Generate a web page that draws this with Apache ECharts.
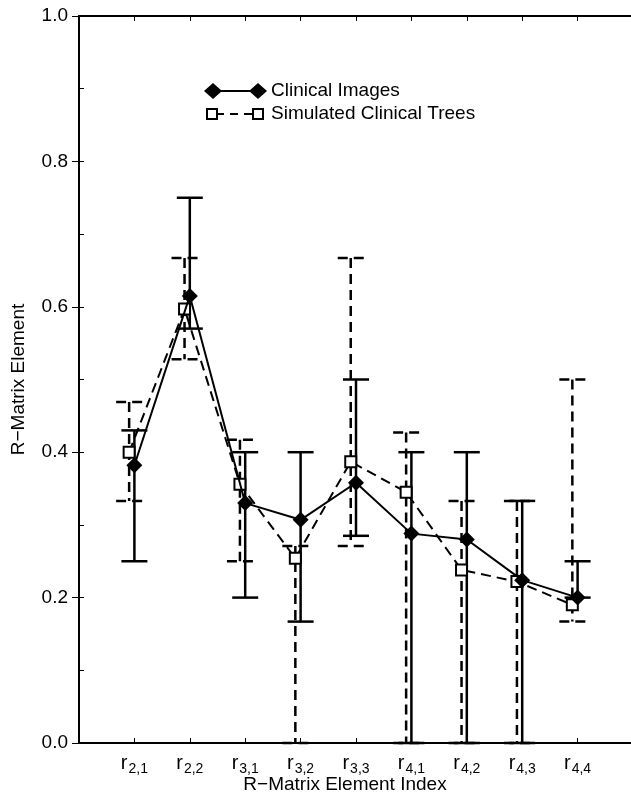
<!DOCTYPE html>
<html>
<head>
<meta charset="utf-8">
<script src="https://cdn.jsdelivr.net/npm/echarts@6/dist/echarts.min.js"></script>
<style>
html,body{margin:0;padding:0;background:#fff;}
#chart{width:631px;height:796px;}
</style>
</head>
<body>
<div id="chart"></div>
<script>
// ---- data ----
const categories = ['2,1','2,2','3,1','3,2','3,3','4,1','4,2','4,3','4,4'];
const yTicks = [0, 0.2, 0.4, 0.6, 0.8, 1.0];

const clinicalMean = [0.382, 0.615, 0.330, 0.307, 0.358, 0.288, 0.280, 0.224, 0.200];
const clinicalLow  = [0.250, 0.570, 0.200, 0.167, 0.285, 0.000, 0.000, 0.000, 0.200];
const clinicalHigh = [0.430, 0.750, 0.400, 0.400, 0.500, 0.400, 0.400, 0.333, 0.250];

const simMean = [0.400, 0.597, 0.356, 0.254, 0.387, 0.345, 0.238, 0.222, 0.190];
const simLow  = [0.333, 0.528, 0.250, 0.000, 0.271, 0.000, 0.000, 0.000, 0.167];
const simHigh = [0.469, 0.667, 0.417, 0.271, 0.667, 0.427, 0.333, 0.333, 0.500];

const seriesNames = ['Clinical Images', 'Simulated Clinical Trees'];
const xName = 'R\u2212Matrix Element Index';
const yName = 'R\u2212Matrix Element';

// ---- build ----
const FONT = '"Liberation Sans", Arial, Helvetica, sans-serif';
const FS = 19;
const SIM_OFFSET = -0.095;
const clinPts = clinicalMean.map((v, i) => [i + 1, v]);
const simPts = simMean.map((v, i) => [i + 1 + SIM_OFFSET, v]);
const clinErr = clinicalMean.map((v, i) => [i + 1, clinicalLow[i], clinicalHigh[i]]);
const simErr = simMean.map((v, i) => [i + 1 + SIM_OFFSET, simLow[i], simHigh[i]]);

function errRender(dashed) {
  return function (params, api) {
    const x = api.value(0), lo = api.value(1), hi = api.value(2);
    const pH = api.coord([x, hi]);
    const pL = api.coord([x, lo]);
    const hw = 13;
    const style = {stroke: '#000', lineWidth: 2.5, lineDash: dashed ? [10, 6] : null, fill: null};
    return {
      type: 'group',
      children: [
        {type: 'line', shape: {x1: pH[0], y1: pH[1], x2: pL[0], y2: pL[1]}, style: style},
        {type: 'line', shape: {x1: pH[0] - hw, y1: pH[1], x2: pH[0] + hw, y2: pH[1]}, style: style},
        {type: 'line', shape: {x1: pL[0] - hw, y1: pL[1], x2: pL[0] + hw, y2: pL[1]}, style: style}
      ]
    };
  };
}

const chart = echarts.init(document.getElementById('chart'), null, {renderer: 'canvas'});
const axisLineStyle = {color: '#000', width: 2};

const option = {
  backgroundColor: '#fff',
  animation: false,
  textStyle: {fontFamily: FONT, color: '#000'},
  grid: {left: 79, top: 16, width: 554, height: 727, containLabel: false, outerBoundsMode: 'none'},
  xAxis: [{
    type: 'value', min: 0, max: 10, interval: 1, position: 'bottom',
    axisLine: {show: true, onZero: false, lineStyle: axisLineStyle},
    axisTick: {show: true, inside: true, length: 5, lineStyle: {color: '#000', width: 1}},
    splitLine: {show: false},
    axisLabel: {
      margin: 7, fontFamily: FONT, color: '#000',
      formatter: function (v) {
        const i = Math.round(v) - 1;
        if (i < 0 || i >= categories.length) return '';
        return '{r|r}{s|' + categories[i] + '}';
      },
      rich: {
        r: {fontSize: 20, fontFamily: FONT, color: '#000'},
        s: {fontSize: 14, fontFamily: FONT, color: '#000', padding: [12, 0, 0, 1]}
      }
    },
    name: xName, nameLocation: 'middle', nameGap: 32, nameMoveOverlap: false,
    nameTextStyle: {fontSize: FS, fontFamily: FONT, color: '#000', padding: [0, 22, 0, 0]}
  }, {
    type: 'value', min: 0, max: 10, interval: 1, position: 'top',
    axisLine: {show: true, onZero: false, lineStyle: axisLineStyle},
    axisTick: {show: true, inside: true, length: 5, lineStyle: {color: '#000', width: 1}},
    axisLabel: {show: false}, splitLine: {show: false}
  }],
  yAxis: [{
    type: 'value', min: 0, max: 1, interval: 0.2, position: 'left',
    axisLine: {show: true, onZero: false, lineStyle: axisLineStyle},
    axisTick: {show: true, inside: true, length: 5, lineStyle: {color: '#000', width: 1}},
    minorTick: {show: true, splitNumber: 2, length: 5, lineStyle: {color: '#000', width: 1}},
    splitLine: {show: false},
    axisLabel: {
      margin: 11, fontSize: FS, fontFamily: FONT, color: '#000',
      formatter: function (v) {
        const t = yTicks.find(t => Math.abs(t - v) < 1e-9);
        return t === undefined ? '' : t.toFixed(1);
      }
    },
    name: yName, nameLocation: 'middle', nameGap: 51, nameRotate: 90, nameMoveOverlap: false,
    nameTextStyle: {fontSize: FS, fontFamily: FONT, color: '#000'}
  }, {
    type: 'value', min: 0, max: 1, interval: 0.2, position: 'right',
    axisLine: {show: false},
    axisTick: {show: true, inside: true, length: 7, lineStyle: {color: '#000', width: 1}},
    axisLabel: {show: false}, splitLine: {show: false}
  }],
  series: [
    {type: 'custom', name: seriesNames[1] + ' err', renderItem: errRender(true), data: simErr, z: 2, encode: {x: 0, y: [1, 2]}},
    {type: 'custom', name: seriesNames[0] + ' err', renderItem: errRender(false), data: clinErr, z: 2, encode: {x: 0, y: [1, 2]}},
    {
      type: 'line', name: seriesNames[1], data: simPts, z: 3,
      symbol: 'rect', symbolSize: 11, showAllSymbol: true,
      lineStyle: {color: '#000', width: 2, type: [10, 6]},
      itemStyle: {color: '#fff', borderColor: '#000', borderWidth: 2}
    },
    {
      type: 'line', name: seriesNames[0], data: clinPts, z: 4,
      symbol: 'diamond', symbolSize: [16, 16], showAllSymbol: true,
      lineStyle: {color: '#000', width: 2},
      itemStyle: {color: '#000', borderColor: '#000', borderWidth: 0}
    }
  ],
  graphic: [
    {type: 'line', shape: {x1: 213, y1: 91, x2: 258, y2: 91}, style: {stroke: '#000', lineWidth: 2}},
    {type: 'polygon', shape: {points: [[204, 91], [213, 83], [222, 91], [213, 99]]}, style: {fill: '#000'}},
    {type: 'polygon', shape: {points: [[249, 91], [258, 83], [267, 91], [258, 99]]}, style: {fill: '#000'}},
    {type: 'text', x: 271, y: 91, style: {text: seriesNames[0], fontSize: FS, fontFamily: FONT, fill: '#000', verticalAlign: 'middle'}},
    {type: 'line', shape: {x1: 216, y1: 114, x2: 255, y2: 114}, style: {stroke: '#000', lineWidth: 2, lineDash: [8, 6]}},
    {type: 'rect', shape: {x: 207, y: 109, width: 10, height: 10}, style: {fill: '#fff', stroke: '#000', lineWidth: 2}},
    {type: 'rect', shape: {x: 253, y: 109, width: 10, height: 10}, style: {fill: '#fff', stroke: '#000', lineWidth: 2}},
    {type: 'text', x: 271, y: 114, style: {text: seriesNames[1], fontSize: FS, fontFamily: FONT, fill: '#000', verticalAlign: 'middle'}}
  ]
};
chart.setOption(option);
</script>
</body>
</html>
